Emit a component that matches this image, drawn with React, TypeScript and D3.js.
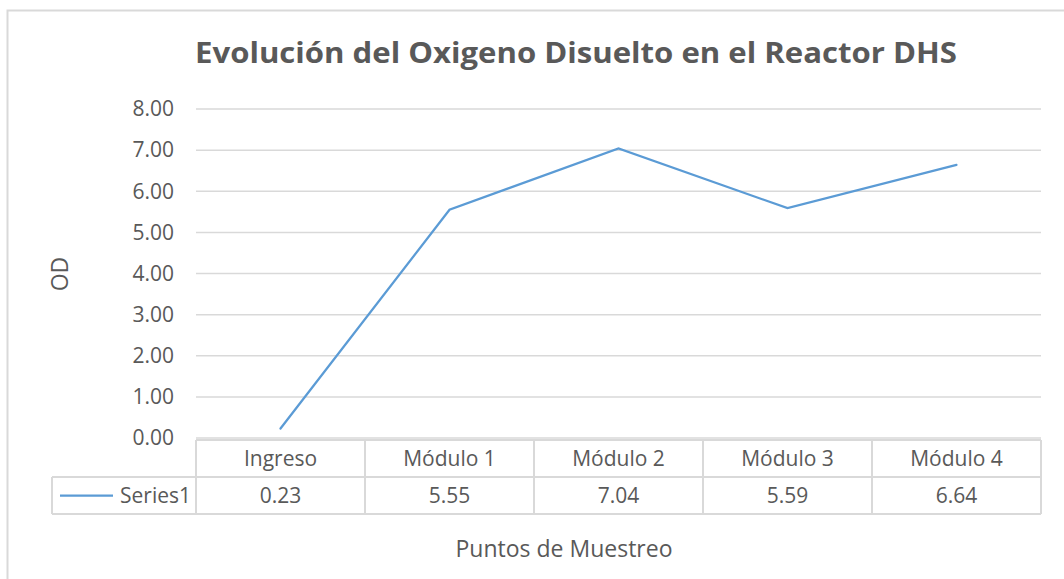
import { useEffect, useRef } from 'react'
import * as d3 from 'd3'

const categories = ['Ingreso', 'Módulo 1', 'Módulo 2', 'Módulo 3', 'Módulo 4']
const values = [0.23, 5.55, 7.04, 5.59, 6.64]
const yTicks = [0, 1, 2, 3, 4, 5, 6, 7, 8]
const seriesName = 'Series1'

const App = () => {
    const ref = useRef<SVGSVGElement | null>(null)

    useEffect(() => {
        if (!ref.current) return
        const width = 1064
        const height = 579
        const font = '"Open Sans", sans-serif'
        const textColor = '#595959'
        const gridColor = '#d9d9d9'
        const fs = 21
        const titleFs = 23

        const svg = d3.select(ref.current)
        svg.selectAll('*').remove()
        svg.attr('width', width).attr('height', height)

        svg.append('rect')
            .attr('x', 0).attr('y', 0).attr('width', width).attr('height', height)
            .attr('fill', '#fff')

        // chart area border (runs off the right/bottom edge)
        svg.append('rect')
            .attr('x', 7.5).attr('y', 10.5).attr('width', width + 20).attr('height', height + 20)
            .attr('fill', 'none').attr('stroke', gridColor).attr('stroke-width', 2)

        const left = 196
        const right = 1041
        const top = 109
        const bottom = 438

        const x = d3.scaleBand().domain(categories).range([left, right])
        const y = d3.scaleLinear().domain([0, 8]).range([bottom, top])

        svg.append('text')
            .attr('x', 576).attr('y', 63)
            .attr('text-anchor', 'middle')
            .attr('font-family', font).attr('font-weight', 'bold')
            .attr('font-size', 29).attr('fill', textColor)
            .attr('textLength', 762).attr('lengthAdjust', 'spacingAndGlyphs')
            .text('Evolución del Oxigeno Disuelto en el Reactor DHS')

        const grid = svg.append('g')
        grid.selectAll('line')
            .data(yTicks)
            .join('line')
            .attr('x1', left).attr('x2', right)
            .attr('y1', d => y(d)).attr('y2', d => y(d))
            .attr('stroke', gridColor).attr('stroke-width', 1.5)

        svg.append('g').selectAll('text')
            .data(yTicks)
            .join('text')
            .attr('x', 174).attr('y', d => y(d))
            .attr('dy', '0.35em')
            .attr('text-anchor', 'end')
            .attr('font-family', font).attr('font-size', fs).attr('fill', textColor)
            .text(d => d3.format('.2f')(d))

        svg.append('text')
            .attr('transform', `translate(68, 274) rotate(-90)`)
            .attr('text-anchor', 'middle')
            .attr('font-family', font).attr('font-size', titleFs).attr('fill', textColor)
            .text('OD')

        const line = d3.line<number>()
            .x((_, i) => x(categories[i])! + x.bandwidth() / 2)
            .y(d => y(d))

        svg.append('path')
            .datum(values)
            .attr('d', line)
            .attr('fill', 'none')
            .attr('stroke', '#5b9bd5')
            .attr('stroke-width', 2.25)
            .attr('stroke-linecap', 'round')

        // data table
        const rowTop = 440
        const rowMid = 477
        const rowBottom = 514
        const tableLeft = 52
        const table = svg.append('g').attr('stroke', gridColor).attr('stroke-width', 2).attr('fill', 'none')
        table.append('line').attr('x1', left).attr('x2', right).attr('y1', rowTop).attr('y2', rowTop)
        table.append('line').attr('x1', tableLeft).attr('x2', right).attr('y1', rowMid).attr('y2', rowMid)
        table.append('line').attr('x1', tableLeft).attr('x2', right).attr('y1', rowBottom).attr('y2', rowBottom)
        table.append('line').attr('x1', tableLeft).attr('x2', tableLeft).attr('y1', rowMid).attr('y2', rowBottom)
        table.selectAll('line.v')
            .data([...categories.map(c => x(c)!), right])
            .join('line')
            .attr('class', 'v')
            .attr('x1', d => d).attr('x2', d => d)
            .attr('y1', rowTop).attr('y2', rowBottom)

        svg.append('g').selectAll('text')
            .data(categories)
            .join('text')
            .attr('x', d => x(d)! + x.bandwidth() / 2)
            .attr('y', (rowTop + rowMid) / 2)
            .attr('dy', '0.35em')
            .attr('text-anchor', 'middle')
            .attr('font-family', font).attr('font-size', fs).attr('fill', textColor)
            .text(d => d)

        svg.append('g').selectAll('text')
            .data(values)
            .join('text')
            .attr('x', (_, i) => x(categories[i])! + x.bandwidth() / 2)
            .attr('y', (rowMid + rowBottom) / 2)
            .attr('dy', '0.35em')
            .attr('text-anchor', 'middle')
            .attr('font-family', font).attr('font-size', fs).attr('fill', textColor)
            .text(d => d3.format('.2f')(d))

        svg.append('line')
            .attr('x1', 60).attr('x2', 113)
            .attr('y1', (rowMid + rowBottom) / 2).attr('y2', (rowMid + rowBottom) / 2)
            .attr('stroke', '#5b9bd5').attr('stroke-width', 2.25)

        svg.append('text')
            .attr('x', 191).attr('y', (rowMid + rowBottom) / 2)
            .attr('dy', '0.35em')
            .attr('text-anchor', 'end')
            .attr('font-family', font).attr('font-size', fs).attr('fill', textColor)
            .text(seriesName)

        svg.append('text')
            .attr('x', 564).attr('y', 549)
            .attr('dy', '0.35em')
            .attr('text-anchor', 'middle')
            .attr('font-family', font).attr('font-size', titleFs).attr('fill', textColor)
            .text('Puntos de Muestreo')
    }, [])

    return (
        <div style={{ position: 'absolute', left: 0, top: 0 }}>
            <svg ref={ref} style={{ display: 'block' }}></svg>
        </div>
    )
}

export default App
